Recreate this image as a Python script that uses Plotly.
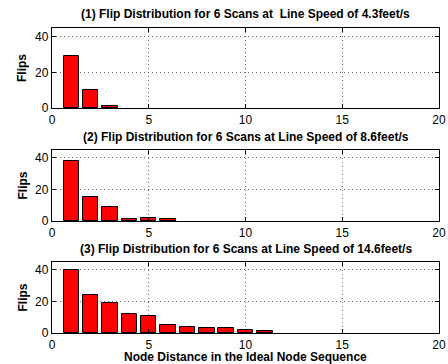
import plotly.graph_objects as go

distance = list(range(1, 20))
flips_43 = [29, 10, 1] + [0] * 16
flips_86 = [38, 15, 9, 1, 2, 1] + [0] * 13
flips_146 = [40, 24, 19, 12, 11, 5, 4, 3, 3, 2, 1] + [0] * 8
titles = [
    "(1) Flip Distribution for 6 Scans at  Line Speed of 4.3feet/s",
    "(2) Flip Distribution for 6 Scans at Line Speed of 8.6feet/s",
    "(3) Flip Distribution for 6 Scans at Line Speed of 14.6feet/s",
]
series = [flips_43, flips_86, flips_146]

W, H = 448, 364
x0, x1 = 52, 439
panels = [(28, 108), (150, 221), (262, 333)]
title_y = [14, 137, 249]

fig = go.Figure()
FONT = "Liberation Sans, Arial, Helvetica, sans-serif"
for i, (vals, (top, bot)) in enumerate(zip(series, panels)):
    n = i + 1
    xa = "x" if n == 1 else f"x{n}"
    ya = "y" if n == 1 else f"y{n}"
    fig.add_trace(go.Bar(
        x=distance, y=vals, width=0.8, xaxis=xa, yaxis=ya,
        marker=dict(color="#ff0000",
                    line=dict(color="black", width=[1 if v > 0 else 0 for v in vals])),
        showlegend=False,
    ))
    axis_common = dict(
        showline=True, linecolor="black", linewidth=1.3, mirror="ticks",
        ticks="inside", ticklen=4, tickcolor="black", automargin=False,
        showgrid=True, gridcolor="#666666", griddash="1px,3px", gridwidth=1,
        zeroline=False, tickfont=dict(family=FONT, size=12, color="black"),
    )
    fig.layout[f"xaxis{'' if n == 1 else n}"] = dict(
        axis_common, domain=[x0 / W, x1 / W], range=[0, 20],
        tickvals=[0, 5, 10, 15, 20], anchor=ya,
    )
    fig.layout[f"yaxis{'' if n == 1 else n}"] = dict(
        axis_common, domain=[1 - bot / H, 1 - top / H], range=[0, 45],
        tickvals=[0, 20, 40], anchor=xa,
    )
    fig.add_annotation(
        text="<b>Flips</b>", x=22 / W, y=1 - (top + bot) / 2 / H, textangle=-90,
        xref="paper", yref="paper", showarrow=False, xanchor="center", yanchor="middle",
        font=dict(family=FONT, size=12, color="black"),
    )
    fig.add_annotation(
        text=f"<b>{titles[i]}</b>", x=(x0 + x1) / 2 / W, y=1 - title_y[i] / H,
        xref="paper", yref="paper", showarrow=False, xanchor="center", yanchor="middle",
        font=dict(family=FONT, size=12, color="black"),
    )

fig.add_annotation(
    text="<b>Node Distance in the Ideal Node Sequence</b>", x=(x0 + x1) / 2 / W, y=1 - 357 / H,
    xref="paper", yref="paper", showarrow=False, xanchor="center", yanchor="middle",
    font=dict(family=FONT, size=12, color="black"),
)

fig.update_layout(
    width=W, height=H, margin=dict(l=0, r=0, t=0, b=0),
    plot_bgcolor="white", paper_bgcolor="white", bargap=0,
)
fig.write_html("out.html", config={"displayModeBar": False},
               post_script="document.body.style.margin='0';document.body.style.padding='0';")
